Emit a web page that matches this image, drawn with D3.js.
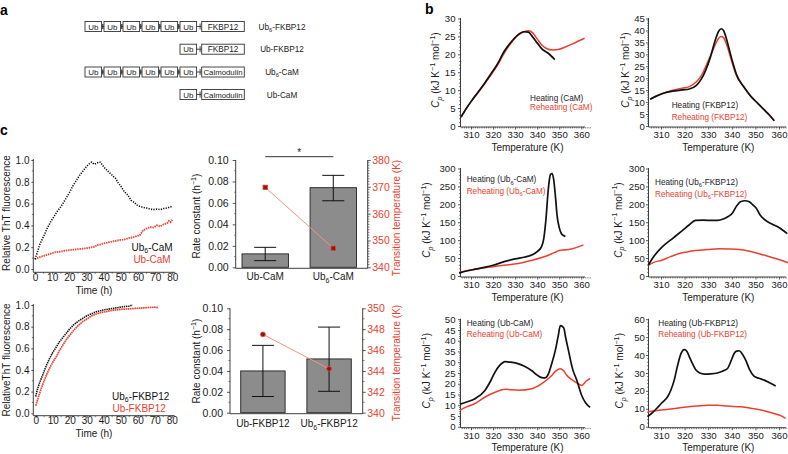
<!DOCTYPE html>
<html><head><meta charset="utf-8">
<script src="https://cdn.jsdelivr.net/npm/d3@7"></script>
<style>body{margin:0;background:#fff;} svg{display:block;background:#fff;} text{font-family:"Liberation Sans",Arial,Helvetica,sans-serif;}</style>
</head><body><svg id="fig" width="788" height="454"></svg>
<script>
// ================= DATA =================
// Panel a: constructs
const constructNames = ["Ub6-FKBP12", "Ub-FKBP12", "Ub6-CaM", "Ub-CaM"];
const constructUbCount = [6, 1, 6, 1];
const constructPartner = ["FKBP12", "FKBP12", "Calmodulin", "Calmodulin"];

// Panel c: ThT kinetics (time h, relative fluorescence)
const thtTimeUb6CaM = [0,1.5,3,5,7,9,11,13,15,17,18.5,20,22,24,26,28,30,32,33,34.5,36,37,38,39.5,41,43,45,47,48.5,50,52,54,56,58,59,61,63,65,67,69,71,73,75,77,79,80];
const thtUb6CaM     = [0.09,0.16,0.235,0.30,0.37,0.43,0.48,0.53,0.57,0.62,0.66,0.70,0.76,0.81,0.86,0.90,0.94,0.97,0.98,0.96,0.97,0.98,0.98,0.95,0.92,0.89,0.86,0.83,0.79,0.76,0.71,0.68,0.63,0.61,0.59,0.575,0.565,0.56,0.55,0.545,0.55,0.545,0.555,0.56,0.57,0.575];
const thtTimeUbCaM  = [0,3,6,9,12,15,18,21,24,27,30,33,35,36,38,40,43,46,49,52,55,57,59,61,62,63,65,67,69,71,73,75,77,78,79,80];
const thtUbCaM      = [0.09,0.11,0.125,0.14,0.155,0.16,0.17,0.175,0.18,0.185,0.19,0.2,0.205,0.22,0.225,0.235,0.245,0.255,0.265,0.27,0.285,0.29,0.3,0.31,0.33,0.355,0.37,0.385,0.38,0.40,0.39,0.41,0.42,0.44,0.43,0.45];
const thtTimeUb6FK  = [0,1,2,3.5,5,6.5,8,10,12,14,16,18,20,22.5,25,27.5,30,33,36,40,44,48,52,55,57];
const thtUb6FK      = [0.155,0.22,0.27,0.33,0.39,0.45,0.5,0.56,0.61,0.66,0.7,0.74,0.78,0.82,0.85,0.875,0.9,0.92,0.94,0.955,0.965,0.975,0.985,0.99,1.0];
const thtTimeUbFK   = [0,1,2,3.5,5,6.5,8,10,12,14,16,18,20,22.5,25,27.5,30,33,36,40,45,50,55,60,65,70,72];
const thtUbFK       = [0.07,0.12,0.17,0.24,0.3,0.36,0.41,0.47,0.52,0.58,0.63,0.68,0.72,0.77,0.81,0.845,0.87,0.9,0.92,0.935,0.95,0.96,0.965,0.97,0.975,0.98,0.975];
const timeTicks = [0,10,20,30,40,50,60,70,80];
const thtTicks = [0,0.2,0.4,0.6,0.8,1.0];

// Panel c: rate constants and transition temperatures
const camCategories = ["Ub-CaM", "Ub6-CaM"];
const camRate = [0.0125, 0.0742];
const camRateLow = [0.0062, 0.062];
const camRateHigh = [0.0186, 0.0857];
const camTm = [369.8, 347.1];
const fkCategories = ["Ub-FKBP12", "Ub6-FKBP12"];
const fkRate = [0.040, 0.0515];
const fkRateLow = [0.0155, 0.0205];
const fkRateHigh = [0.0645, 0.082];
const fkTm = [347.5, 344.2];
const rateTicks = [0, 0.02, 0.04, 0.06, 0.08, 0.10];
const tmTicksCaM = [340, 350, 360, 370, 380];
const tmTicksFK = [340, 342, 344, 346, 348, 350];

// Panel b: DSC (temperature K, Cp kJ K-1 mol-1)
const tempTicks = [310, 320, 330, 340, 350, 360];
const camHeatT = [305.5,308,310,313,316,319,322,325,328,331,334,336,338,340,342,345,348];
const camHeat  = [2.5,5,6.8,9.3,11.8,14.5,17.3,20.8,23.3,25.3,26.3,26.2,24.8,23.2,21.6,20.3,18.5];
const camReT   = [305.5,308,310,313,316,319,322,325,328,331,334,336,338,340,342,344,347,350,353,356,359,361.5];
const camRe    = [2.5,5,6.8,9.2,11.6,14.2,17,20.3,23,25.2,26.3,26.6,26,24.3,22.7,21.7,21.2,21.4,22.1,22.9,23.8,24.5];
const fkHeatT  = [305.4,308,311,315,319,322,325,327,329,331,333,334.5,335.5,336.5,338,340,342,345,348,351,354,356,358];
const fkHeat   = [11.2,12.5,13.7,14.6,15.1,15.5,17,19.5,23.5,29,36,39.8,40.7,40,35.5,28,21.5,16.5,12.5,9.5,6.5,4.5,2.2];
const fkReT    = [305.4,308,311,315,319,322,325,327,329,331,333,334.5,335.5,336.5,338,340,342,345,348,351,354,356,358];
const fkRe     = [11.2,12.5,13.7,15,15.8,16.5,18.5,21,25,29.5,34,36.8,37.5,37,33.5,27,21,16.5,12.5,9.5,6.5,4.5,2.2];
const ub6camHeatT = [304.6,308,312,316,320,325,330,334.5,338,340,342,343,344,345,346,346.8,347.5,348.3,349,350,351,352,352.8];
const ub6camHeat  = [8,14,19,24,30,40,48,53,60,68,82,105,160,240,283,286,268,220,170,135,118,113,110];
const ub6camReT   = [304.6,308,312,316,320,325,331.5,337,343.8,348,350,353,356,359,361];
const ub6camRe    = [10,15,19,23,26,30,35,43,55,66,71,73,76,82,87];
const ub6fkHeatT  = [304.6,307,310.3,314.6,318.9,322,324.6,328,331.7,334,336.7,338.5,340.3,342,343.9,345.5,347.4,349,350.3,352,354.6,357,360.3,363.5];
const ub6fkHeat   = [30,55,80,103,126,143,155,156,155,155,160,166,176,195,208,210,207,198,190,170,154,145,134,118];
const ub6fkReT    = [304.6,307,310.3,314,317.4,321,324.6,330,334.6,339,343.2,347,351.7,355,358.9,363.9];
const ub6fkRe     = [30,38,44,54,62,67,71,74,76,75.5,74,70,62,56,48,37];
const ubcamHeatT  = [305,308,311.8,316.4,319,320.9,323,325.5,328,331.6,334,337.6,340,342.1,343.5,345.1,346.5,348.2,349.5,350.5,352,353,354.2,356,358,360,362,364];
const ubcamHeat   = [10.5,11.5,13,17,21.5,25.4,28.5,30.3,30,29.2,28.2,26,24,22.8,22.7,24.6,29,35.4,42,47,46,41,35.4,27,21.5,15,11,9];
const ubcamReT    = [305,308,311.8,316.4,320.9,325.5,331.6,337.6,342.1,346.6,348.5,350.5,352,353.5,355.5,357.3,360.3,362,364];
const ubcamRe     = [7.7,9.2,10.8,13.8,16,17.4,17,17.7,20,23.8,26,27,26,23.8,22,20.8,19.2,21,22.5];
const ubfkHeatT   = [304.3,306.5,308.6,310.5,312.8,314.2,315.6,317,318.5,319.9,321,322,323.4,324.8,326.5,328.3,331,333.9,336,338.2,339.6,341,342,343.1,344.5,345.9,347.5,349.4,351.5,353.7,356,358.6];
const ubfkHeat    = [5.6,8,10.8,13.5,16.7,20.5,26,34,40.9,43,42,39,35,31.6,30,29.4,29.5,30,31,32.5,36.5,40.9,42.2,42.4,40.5,37.2,32,28.2,27,26,24.5,22.7];
const ubfkReT     = [304.3,310,315,319.9,325,329.7,334,338.2,343.8,347,350.8,354,357.9,361,362.8];
const ubfkRe      = [8.4,9.3,10,10.8,11.5,12,12,11.5,11.1,10.6,9.7,8.8,7.4,6,4.6];

// ================= DRAWING =================
const svg = d3.select("#fig");
const RED = "#e8412f";
const INK = "#1a1a1a";
const AXC = "#2a2a2a";
const FONT = '"Liberation Sans", Arial, Helvetica, sans-serif';

function rich(t, parts, size) {
  let shift = 0;
  parts.forEach(p => {
    const txt = p[0], type = p[1] || "n";
    let target = 0, fs = size;
    if (type === "sub" || type === "isub") { target = 0.28 * size; fs = 0.7 * size; }
    if (type === "sup") { target = -0.42 * size; fs = 0.72 * size; }
    const ts = t.append("tspan").text(txt).attr("font-size", fs);
    if (target - shift !== 0) ts.attr("dy", target - shift);
    if (type === "i" || type === "isub") ts.attr("font-style", "italic");
    shift = target;
  });
}
function nameParts(name) {
  if (name.startsWith("Ub6")) return [["Ub"], ["6", "sub"], [name.slice(3)]];
  return [[name]];
}
function addText(x, y, parts, size, o = {}) {
  const t = svg.append("text").attr("x", x).attr("y", y).attr("font-size", size)
    .attr("fill", o.color || INK).attr("text-anchor", o.anchor || "start");
  if (o.rotate) t.attr("transform", `rotate(-90,${x},${y})`);
  if (o.weight) t.attr("font-weight", o.weight);
  rich(t, typeof parts === "string" ? [[parts]] : parts, size);
  return t;
}
function line(x1, y1, x2, y2, w = 0.9, c = AXC) {
  svg.append("line").attr("x1", x1).attr("y1", y1).attr("x2", x2).attr("y2", y2)
    .attr("stroke", c).attr("stroke-width", w);
}
function yAxis(scale, x, values, fmt, o) {
  const gen = (o.right ? d3.axisRight(scale) : d3.axisLeft(scale)).tickValues(values)
    .tickFormat(fmt).tickSize(o.ts).tickPadding(o.pad).tickSizeOuter(0);
  const a = svg.append("g").attr("transform", `translate(${x},0)`).call(gen);
  a.select(".domain").remove();
  a.selectAll(".tick line").attr("stroke", AXC).attr("stroke-width", 0.8);
  a.selectAll(".tick text").attr("font-size", o.fs).attr("font-family", FONT).attr("fill", o.color || INK);
  if (o.minor) {
    a.selectAll("line.minor").data(o.minor).join("line").attr("class", "minor")
      .attr("x1", 0).attr("x2", o.right ? o.ms : -o.ms)
      .attr("y1", d => scale(d)).attr("y2", d => scale(d))
      .attr("stroke", AXC).attr("stroke-width", 0.6);
  }
  line(x, o.extent[0], x, o.extent[1]);
}
function xAxis(scale, y, values, fmt, o) {
  const gen = d3.axisBottom(scale).tickValues(values).tickFormat(fmt)
    .tickSize(o.ts).tickPadding(o.pad).tickSizeOuter(0);
  const a = svg.append("g").attr("transform", `translate(0,${y})`).call(gen);
  a.select(".domain").remove();
  a.selectAll(".tick line").attr("stroke", AXC).attr("stroke-width", 0.8);
  a.selectAll(".tick text").attr("font-size", o.fs).attr("font-family", FONT).attr("fill", INK);
  if (o.minor) {
    a.selectAll("line.minor").data(o.minor).join("line").attr("class", "minor")
      .attr("y1", 0).attr("y2", o.ms)
      .attr("x1", d => scale(d)).attr("x2", d => scale(d))
      .attr("stroke", AXC).attr("stroke-width", 0.6);
  }
  line(o.extent[0], y, o.extent[1], y);
}
const range = (a, b, s) => d3.range(a, b + s / 2, s);

// ---------- panel labels ----------
addText(0, 15, "a", 14, { weight: "bold", color: "#000" });
addText(425, 14, "b", 14, { weight: "bold", color: "#000" });
addText(0, 135, "c", 14, { weight: "bold", color: "#000" });

// ---------- Panel a ----------
const rowY = [26.5, 49.2, 72, 94.5];
const ubW = 16.6, ubPitch = 19, lastUbX = 180, partnerX = 201.7, partnerW = 42.6, boxH = 10;
constructNames.forEach((name, i) => {
  const cy = rowY[i];
  const n = constructUbCount[i];
  for (let k = 0; k < n; k++) {
    const x0 = lastUbX - (n - 1 - k) * ubPitch;
    svg.append("rect").attr("x", x0).attr("y", cy - boxH / 2).attr("width", ubW).attr("height", boxH)
      .attr("fill", "#fff").attr("stroke", "#333").attr("stroke-width", 0.9);
    addText(x0 + ubW / 2, cy + 3, "Ub", 8, { anchor: "middle", color: "#222" });
    const nx = k < n - 1 ? x0 + ubPitch : partnerX;
    line(x0 + ubW, cy, nx, cy, 0.9, "#333");
    if (k < n - 1) line((x0 + ubW + nx) / 2, cy - 2.5, (x0 + ubW + nx) / 2, cy + 2.5, 1.3, "#333");
    else line(nx - 1.6, cy - 3, nx - 1.6, cy + 3, 0.9, "#333");
  }
  svg.append("rect").attr("x", partnerX).attr("y", cy - boxH / 2).attr("width", partnerW).attr("height", boxH)
    .attr("fill", "#fff").attr("stroke", "#333").attr("stroke-width", 0.9);
  addText(partnerX + partnerW / 2, cy + 3, constructPartner[i], constructPartner[i] === "Calmodulin" ? 7.8 : 8.2, { anchor: "middle", color: "#222" });
  addText(282, cy + 3, nameParts(name), 8.2, { anchor: "middle", color: "#222" });
});

// ---------- Panel c: ThT kinetics ----------
function thtPlot(cfg) {
  const x = d3.scaleLinear().domain([0, 80]).range(cfg.xr);
  const y = d3.scaleLinear().domain([0, 1]).range(cfg.yr);
  yAxis(y, cfg.axX, thtTicks, d3.format(".1f"), { ts: 2, pad: 1.8, fs: 10, minor: range(0.1, 0.9, 0.2), ms: 1.5, extent: [cfg.yr[1] - 1, cfg.axY] });
  xAxis(x, cfg.axY, timeTicks, d3.format("d"), { ts: 2, pad: -0.5, fs: 10, minor: range(5, 75, 10), ms: 1.5, extent: [cfg.axX, cfg.xr[1] + 3] });
  const lg = d3.line().x(d => x(d[0])).y(d => y(d[1]));
  cfg.series.forEach(s => {
    svg.append("path").attr("d", lg(d3.zip(s.t, s.v))).attr("fill", "none")
      .attr("stroke", s.color).attr("stroke-width", s.w).attr("stroke-dasharray", s.dash);
  });
  addText(cfg.titleX, cfg.axY + 21.5, "Time (h)", 10, { anchor: "middle" });
  addText(9.5, cfg.labelY, cfg.ylabel, 10, { anchor: "middle", rotate: true });
  cfg.legend.forEach(l => addText(l.x, l.y, nameParts(l.name), 10, { anchor: l.anchor, color: l.color }));
}
thtPlot({
  xr: [35, 172.3], yr: [269, 160], axX: 33.3, axY: 272.3, titleX: 94, labelY: 213,
  ylabel: "Relative ThT fluorescence",
  series: [
    { t: thtTimeUbCaM, v: thtUbCaM, color: RED, w: 1.9, dash: "1.4 0.9" },
    { t: thtTimeUb6CaM, v: thtUb6CaM, color: "#111", w: 1.6, dash: "1.2 1.3" }
  ],
  legend: [
    { x: 152, y: 250.5, name: "Ub6-CaM", color: "#111", anchor: "middle" },
    { x: 152, y: 263, name: "Ub-CaM", color: RED, anchor: "middle" }
  ]
});
thtPlot({
  xr: [35.7, 171.7], yr: [413.3, 305], axX: 33.3, axY: 415.7, titleX: 94, labelY: 360,
  ylabel: "RelativeThT fluorescence",
  series: [
    { t: thtTimeUbFK, v: thtUbFK, color: RED, w: 1.7, dash: "1.6 0.6" },
    { t: thtTimeUb6FK, v: thtUb6FK, color: "#111", w: 1.6, dash: "1.4 0.8" }
  ],
  legend: [
    { x: 112, y: 399.5, name: "Ub6-FKBP12", color: "#111", anchor: "start" },
    { x: 112.5, y: 412, name: "Ub-FKBP12", color: RED, anchor: "start" }
  ]
});

// ---------- Panel c: bar charts ----------
function barPlot(cfg) {
  const x = d3.scaleBand().domain(cfg.cats).range(cfg.br).paddingInner(cfg.pi).paddingOuter(cfg.po);
  const y = d3.scaleLinear().domain([0, 0.1]).range(cfg.yr);
  const y2 = d3.scaleLinear().domain(cfg.tmDomain).range(cfg.yr);
  yAxis(y, cfg.axL, rateTicks, d3.format(".2f"), { ts: 3, pad: 4, fs: 10.5, minor: range(0.01, 0.09, 0.02), ms: 1.5, extent: [cfg.yr[1], cfg.axY] });
  yAxis(y2, cfg.axR, cfg.tmTicks, d3.format("d"), { right: true, ts: 3, pad: 1.5, fs: 10.5, color: RED, minor: cfg.tmMinor, ms: 1.8, extent: [cfg.yr[1], cfg.axY] });
  line(cfg.axL, cfg.axY, cfg.axR, cfg.axY);
  cfg.cats.forEach((c, i) => {
    const bx = x(c), bw = x.bandwidth(), cx = bx + bw / 2;
    svg.append("rect").attr("x", bx).attr("y", y(cfg.rate[i])).attr("width", bw)
      .attr("height", y(0) - y(cfg.rate[i])).attr("fill", "#8c8c8c").attr("stroke", "#222").attr("stroke-width", 0.9);
    line(cx, y(cfg.lo[i]), cx, y(cfg.hi[i]), 1, "#111");
    line(cx - 11, y(cfg.lo[i]), cx + 11, y(cfg.lo[i]), 1, "#111");
    line(cx - 11, y(cfg.hi[i]), cx + 11, y(cfg.hi[i]), 1, "#111");
    addText(cx, cfg.labY, nameParts(c), 10, { anchor: "middle" });
  });
  const pts = cfg.cats.map((c, i) => [x(c) + x.bandwidth() / 2, y2(cfg.tm[i])]);
  svg.append("path").attr("d", d3.line()(pts)).attr("fill", "none").attr("stroke", "#f19383").attr("stroke-width", 1);
  pts.forEach(p => {
    if (cfg.square) svg.append("rect").attr("x", p[0] - 2.2).attr("y", p[1] - 2.2).attr("width", 4.4).attr("height", 4.4)
      .attr("fill", "#8f1414").attr("stroke", RED).attr("stroke-width", 0.8);
    else svg.append("circle").attr("cx", p[0]).attr("cy", p[1]).attr("r", 2.4)
      .attr("fill", "#8f1414").attr("stroke", RED).attr("stroke-width", 0.8);
  });
  addText(200, cfg.labelY, [["Rate constant (h"], ["−1", "sup"], [")"]], 10, { anchor: "middle", rotate: true });
  addText(400, cfg.labelY + 2, "Transition temperature (K)", 10, { anchor: "middle", rotate: true, color: RED });
  return x;
}
const xb1 = barPlot({
  cats: camCategories, rate: camRate, lo: camRateLow, hi: camRateHigh, tm: camTm,
  br: [235.2, 363.3], pi: 0.318, po: 0.1, yr: [267.3, 160], axL: 235.7, axR: 367.7, axY: 268.3,
  tmDomain: [340, 380], tmTicks: tmTicksCaM, tmMinor: range(341, 379, 1).filter(d => d % 10 !== 0),
  labY: 280.3, labelY: 216, square: true
});
{
  const c0 = xb1(camCategories[0]) + xb1.bandwidth() / 2, c1 = xb1(camCategories[1]) + xb1.bandwidth() / 2;
  line(c0, 156.7, c1, 156.7, 1, "#333");
  addText((c0 + c1) / 2, 155.5, "*", 10, { anchor: "middle" });
}
barPlot({
  cats: fkCategories, rate: fkRate, lo: fkRateLow, hi: fkRateHigh, tm: fkTm,
  br: [230, 362], pi: 0.329, po: 0.162, yr: [412.7, 308.3], axL: 230, axR: 362.7, axY: 413.7,
  tmDomain: [340, 350], tmTicks: tmTicksFK, tmMinor: range(341, 349, 2),
  labY: 427, labelY: 361, square: false
});

// ---------- Panel b: DSC ----------
function dscPlot(cfg) {
  const left = cfg.col === 0;
  const x = d3.scaleLinear().domain([310, 360]).range(left ? [471, 581.3] : [661, 779]);
  const axX = left ? 460.5 : 648.5;
  const y = d3.scaleLinear().domain([0, cfg.ymax]).range([cfg.y0, cfg.y0 - 107.5]);
  const yt = range(0, cfg.ymax, cfg.ystep);
  const ms = cfg.ystep / 5;
  yAxis(y, axX, yt, d3.format("d"), { ts: 2.5, pad: left ? 2.5 : 1.2, fs: 9.6,
    minor: range(ms, cfg.ymax, ms).filter(d => Math.abs(d / cfg.ystep - Math.round(d / cfg.ystep)) > 1e-6), ms: 1.5,
    extent: [cfg.y0 - 108, cfg.y0 + 1] });
  xAxis(x, cfg.y0 + 1, tempTicks, d3.format("d"), { ts: 2.5, pad: 2, fs: 9.6,
    minor: range(306, 364, 1).filter(d => d % 10 !== 0), ms: 1.5, extent: [axX, left ? 585 : 786] });
  const lg = d3.line().curve(d3.curveMonotoneX).x(d => x(d[0])).y(d => y(d[1]));
  svg.append("path").attr("d", lg(d3.zip(cfg.reT, cfg.re))).attr("fill", "none").attr("stroke", RED).attr("stroke-width", 1.5);
  svg.append("path").attr("d", lg(d3.zip(cfg.heatT, cfg.heat))).attr("fill", "none").attr("stroke", "#111").attr("stroke-width", 1.7);
  addText(left ? 527.5 : 718.3, cfg.y0 + 24.5, "Temperature (K)", 10, { anchor: "middle" });
  addText(cfg.cpX, cfg.y0 - 56, [["C", "i"], ["p", "isub"], [" (kJ K"], ["−1", "sup"], [" mol"], ["−1", "sup"], [")"]], 10, { anchor: "middle", rotate: true });
  addText(cfg.legX, cfg.legY, [["Heating ("]].concat(nameParts(cfg.name)).concat([[")"]]), 8.2, { color: "#222" });
  addText(cfg.legX, cfg.legY + cfg.legGap, [["Reheating ("]].concat(nameParts(cfg.name)).concat([[")"]]), 8.2, { color: RED });
}
dscPlot({ col: 0, y0: 126, ymax: 30, ystep: 5, heatT: camHeatT, heat: camHeat, reT: camReT, re: camRe,
  name: "CaM", cpX: 439, legX: 530, legY: 100.6, legGap: 9.8 });
dscPlot({ col: 1, y0: 126, ymax: 45, ystep: 5, heatT: fkHeatT, heat: fkHeat, reT: fkReT, re: fkRe,
  name: "FKBP12", cpX: 629, legX: 671.7, legY: 108, legGap: 11.5 });
dscPlot({ col: 0, y0: 276, ymax: 300, ystep: 50, heatT: ub6camHeatT, heat: ub6camHeat, reT: ub6camReT, re: ub6camRe,
  name: "Ub6-CaM", cpX: 430, legX: 466.7, legY: 182.3, legGap: 11.4 });
dscPlot({ col: 1, y0: 276, ymax: 300, ystep: 50, heatT: ub6fkHeatT, heat: ub6fkHeat, reT: ub6fkReT, re: ub6fkRe,
  name: "Ub6-FKBP12", cpX: 621.5, legX: 655, legY: 184.6, legGap: 12.3 });
dscPlot({ col: 0, y0: 426.7, ymax: 50, ystep: 5, heatT: ubcamHeatT, heat: ubcamHeat, reT: ubcamReT, re: ubcamRe,
  name: "Ub-CaM", cpX: 430.5, legX: 466.7, legY: 325.6, legGap: 11.3 });
dscPlot({ col: 1, y0: 426.7, ymax: 60, ystep: 10, heatT: ubfkHeatT, heat: ubfkHeat, reT: ubfkReT, re: ubfkRe,
  name: "Ub-FKBP12", cpX: 623.5, legX: 658.3, legY: 325.6, legGap: 11.3 });
</script>
</body></html>
